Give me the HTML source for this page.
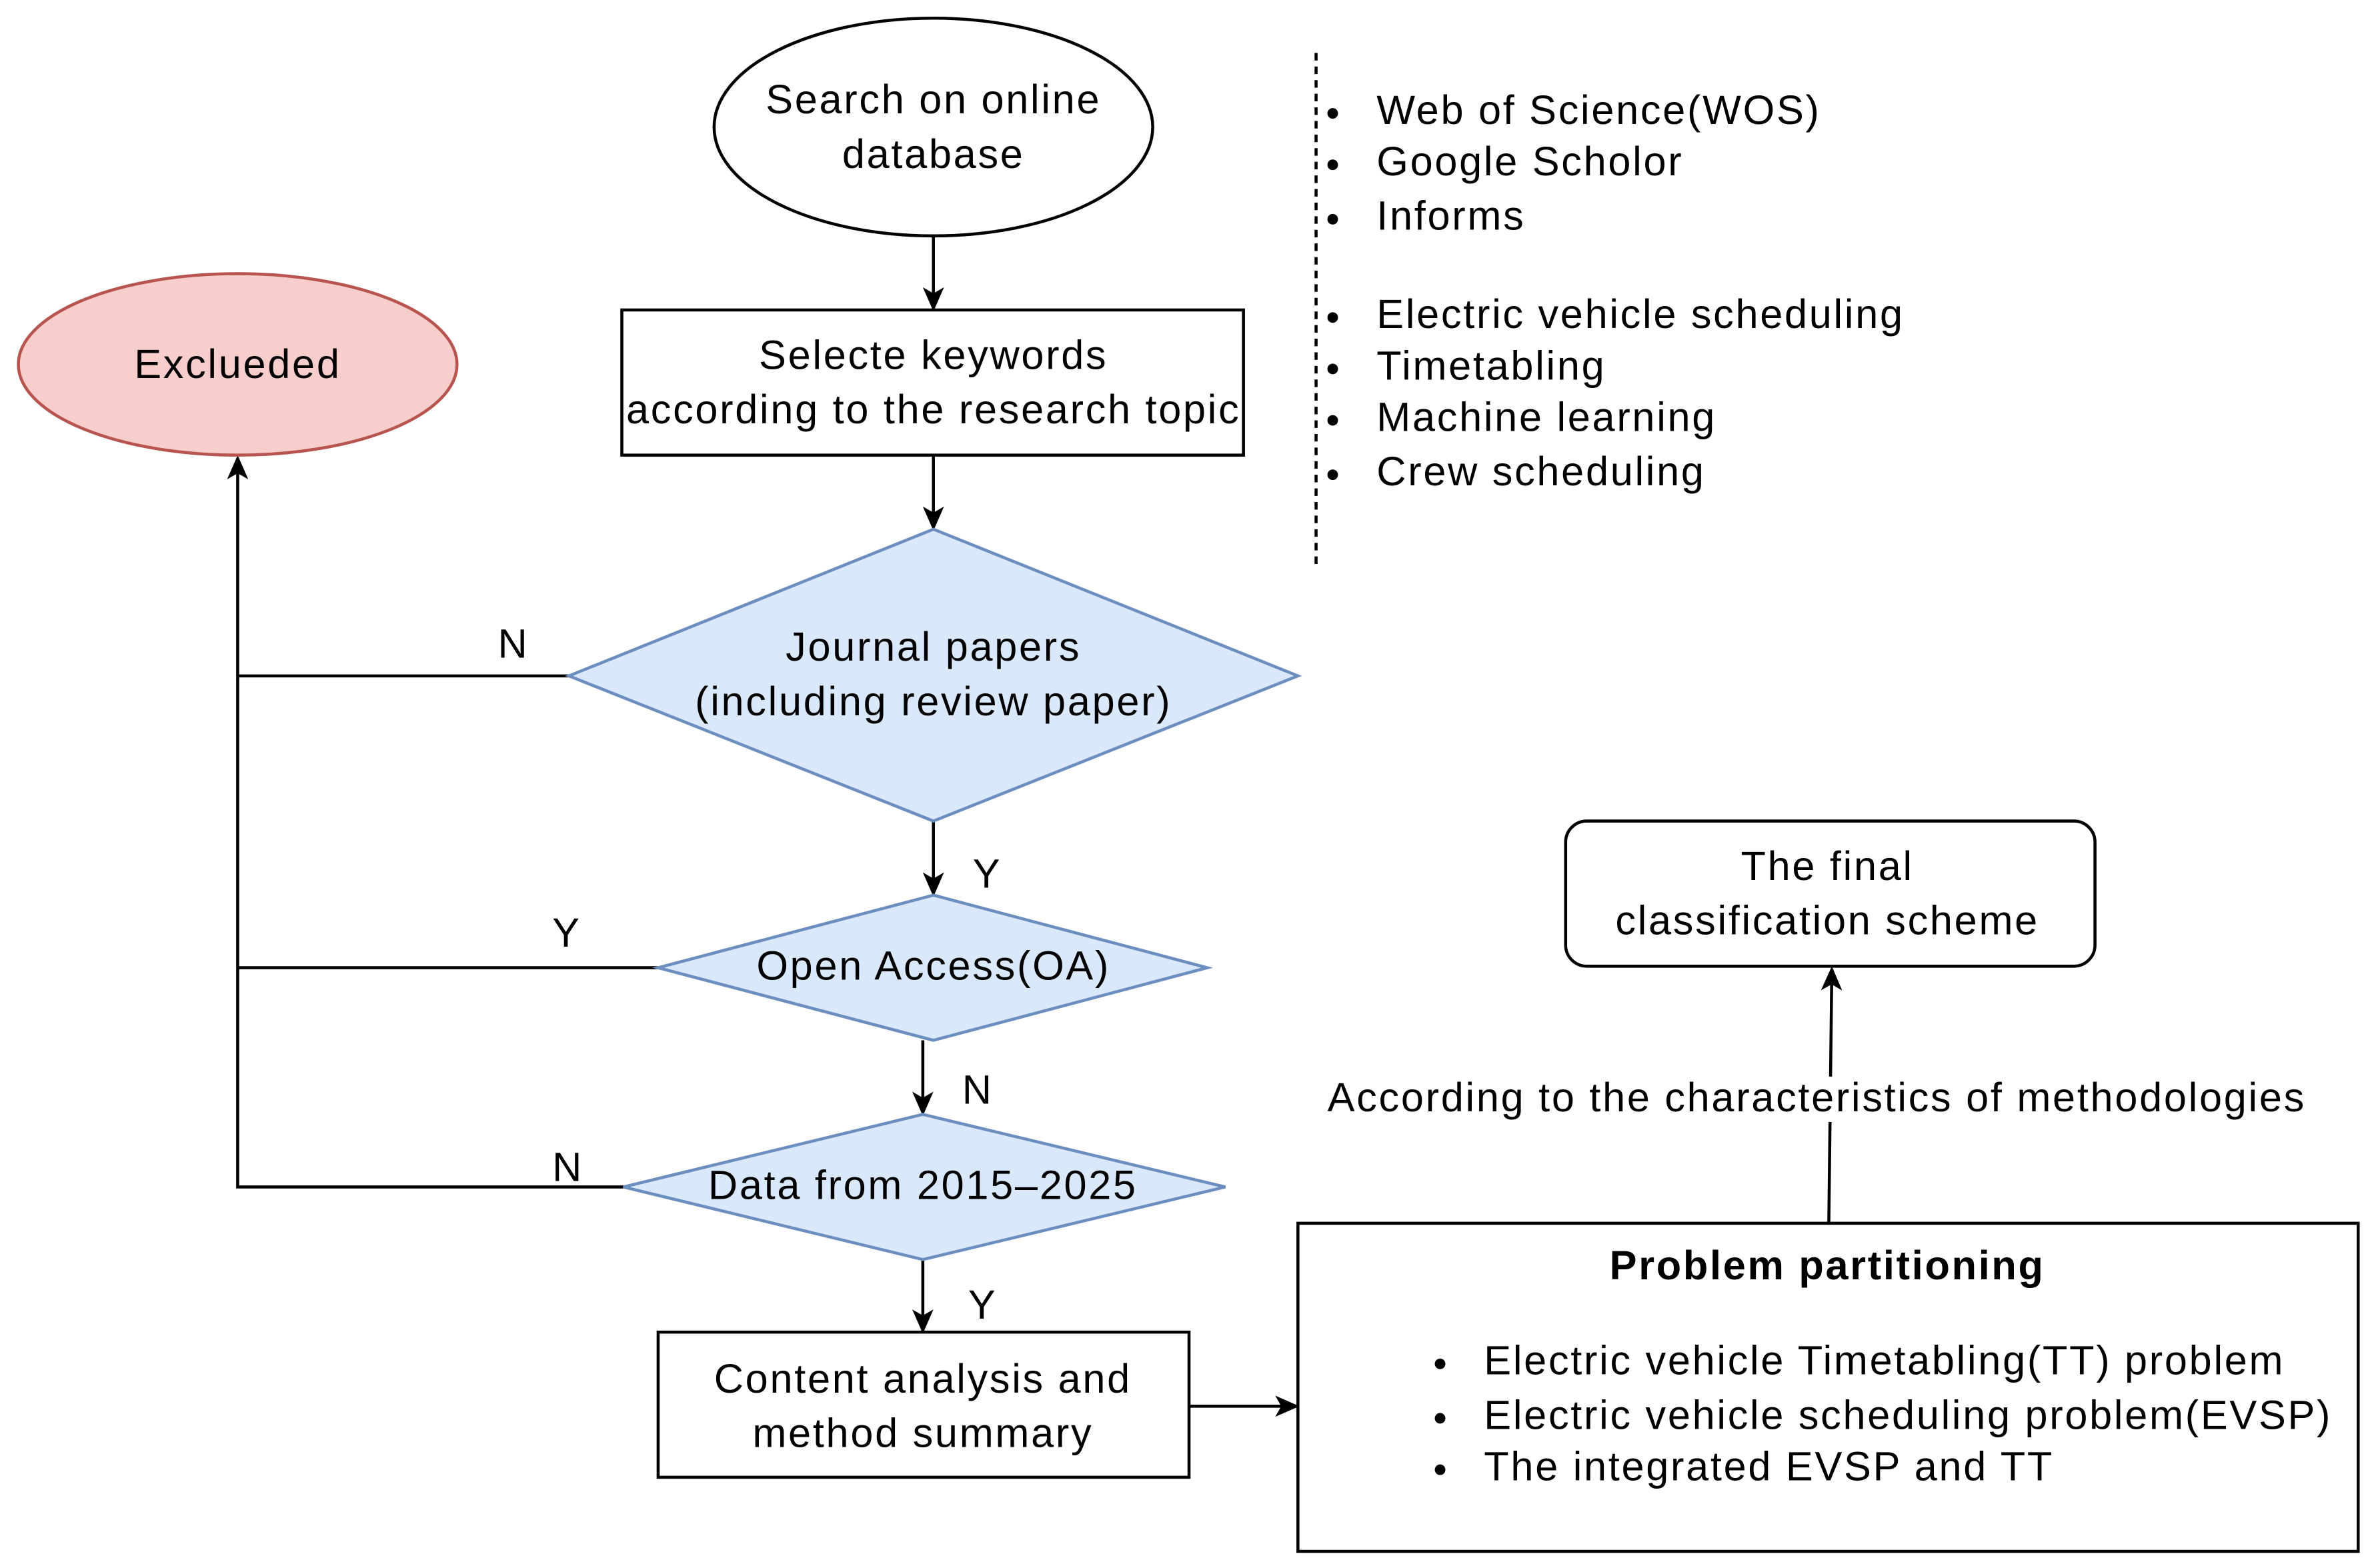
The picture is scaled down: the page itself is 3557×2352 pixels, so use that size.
<!DOCTYPE html>
<html><head><meta charset="utf-8"><style>
html,body{margin:0;padding:0;background:#fff;}
svg{display:block;}
text{font-family:"Liberation Sans",Arial,sans-serif;font-size:27px;letter-spacing:1.2px;fill:#000;}
</style></head><body>
<svg width="3557" height="2352" viewBox="0 0 1568 1037" xmlns="http://www.w3.org/2000/svg">
<defs>
<marker id="b" markerWidth="16" markerHeight="16" refX="14" refY="8" orient="auto" markerUnits="userSpaceOnUse" viewBox="0 0 16 16"><path d="M0,1 L16,8 L0,15 L4,8 z" fill="#000"/></marker></defs>
<g stroke="#000" stroke-width="2" fill="none">
<ellipse cx="617" cy="84" rx="145" ry="72" fill="#fff"/>
<rect x="411" y="205" width="411" height="96" fill="#fff"/>
<rect x="435" y="881" width="351" height="96" fill="#fff"/>
<rect x="858" y="809" width="701" height="217" fill="#fff"/>
<rect x="1035" y="543" width="350" height="96" rx="14" fill="#fff"/>
<line x1="617" y1="156" x2="617" y2="204" marker-end="url(#b)"/>
<line x1="617" y1="301" x2="617" y2="349" marker-end="url(#b)"/>
<line x1="617" y1="543" x2="617" y2="591" marker-end="url(#b)"/>
<line x1="610" y1="688" x2="610" y2="736" marker-end="url(#b)"/>
<line x1="610" y1="833" x2="610" y2="880" marker-end="url(#b)"/>
<line x1="786" y1="930" x2="857" y2="930" marker-end="url(#b)"/>
<line x1="1209" y1="809" x2="1211" y2="641" marker-end="url(#b)"/>
<polyline points="376,447 157,447"/>
<polyline points="435,640 157,640"/>
<polyline points="412,785 157,785 157,303" marker-end="url(#b)"/>
<line x1="870" y1="35" x2="870" y2="375" stroke-dasharray="5,4"/>
</g>
<ellipse cx="157" cy="241" rx="145" ry="60" fill="#f8cecc" stroke="#b85450" stroke-width="2"/>
<g fill="#dae8fc" stroke="#6c8ebf" stroke-width="2">
<polygon points="617,350 858,447 617,543 376,447"/>
<polygon points="617,592 798,640 617,688 435,640"/>
<polygon points="610,737 810,785 610,833 412,785"/>
</g>
<rect x="905" y="712" width="595" height="30" fill="#fff"/>
<g text-anchor="middle">
<text x="617" y="75">Search on online</text><text x="617" y="111">database</text>
<text x="157" y="250">Exclueded</text>
<text x="617" y="244">Selecte keywords</text><text x="617" y="280">according to the research topic</text>
<text x="617" y="437">Journal papers</text><text x="617" y="473">(including review paper)</text>
<text x="617" y="648">Open Access(OA)</text>
<text x="610" y="793">Data from 2015–2025</text>
<text x="610" y="921">Content analysis and</text><text x="610" y="957">method summary</text>
<text x="1208" y="582">The final</text><text x="1208" y="618">classification scheme</text>
<text x="1201" y="735">According to the characteristics of methodologies</text>
<text x="1208" y="846" font-weight="bold">Problem partitioning</text>
</g>
<text x="329" y="435">N</text><text x="365" y="626">Y</text><text x="365" y="781">N</text>
<text x="643" y="587">Y</text><text x="636" y="730">N</text><text x="640" y="872">Y</text>
<g>
<text x="910" y="82">Web of Science(WOS)</text>
<text x="910" y="116">Google Scholor</text>
<text x="910" y="152">Informs</text>
<text x="910" y="217">Electric vehicle scheduling</text>
<text x="910" y="251">Timetabling</text>
<text x="910" y="285">Machine learning</text>
<text x="910" y="321">Crew scheduling</text>
<text x="981" y="909">Electric vehicle Timetabling(TT) problem</text>
<text x="981" y="945">Electric vehicle scheduling problem(EVSP)</text>
<text x="981" y="979">The integrated EVSP and TT</text>
</g>
<g fill="#000">
<circle cx="881" cy="75" r="3.5"/><circle cx="881" cy="109" r="3.5"/><circle cx="881" cy="145" r="3.5"/>
<circle cx="881" cy="210" r="3.5"/><circle cx="881" cy="244" r="3.5"/><circle cx="881" cy="278" r="3.5"/><circle cx="881" cy="314" r="3.5"/>
<circle cx="952" cy="902" r="3.5"/><circle cx="952" cy="938" r="3.5"/><circle cx="952" cy="972" r="3.5"/>
</g>
</svg>
</body></html>
